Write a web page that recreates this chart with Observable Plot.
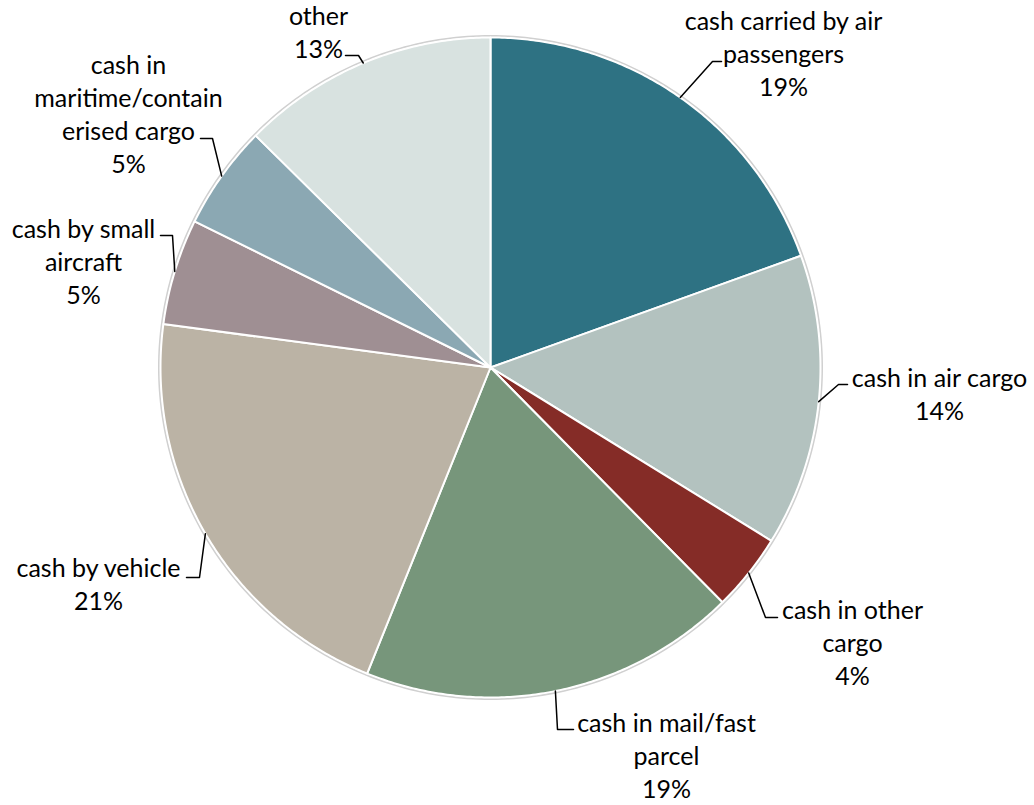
<!DOCTYPE html>
<html>
<head>
<meta charset="utf-8">
<script src="https://cdn.jsdelivr.net/npm/d3@7"></script>
<script src="https://cdn.jsdelivr.net/npm/@observablehq/plot@0.6"></script>
<style>
  html, body { margin: 0; padding: 0; background: #fff; }
  #chart { width: 1034px; height: 805px; }
</style>
</head>
<body>
<div id="chart"></div>
<script>
// ---- data ----
const categories = [
  "cash carried by air passengers",
  "cash in air cargo",
  "cash in other cargo",
  "cash in mail/fast parcel",
  "cash by vehicle",
  "cash by small aircraft",
  "cash in maritime/containerised cargo",
  "other"
];
const values = [19.5, 14.3, 3.8, 18.5, 21.0, 5.2, 5.1, 12.6];
const percentLabels = ["19%", "14%", "4%", "19%", "21%", "5%", "5%", "13%"];
const labelLines = [
  "cash carried by air\npassengers",
  "cash in air cargo",
  "cash in other\ncargo",
  "cash in mail/fast\nparcel",
  "cash by vehicle",
  "cash by small\naircraft",
  "cash in\nmaritime/contain\nerised cargo",
  "other"
];
const colors = ["#2e7283", "#b3c2bf", "#852c27", "#77967b", "#bbb3a5", "#9f8f93", "#8ba8b3", "#d8e2e0"];

// ---- layout ----
const W = 1034, H = 805;
const cx = 490, cy = 367, R = 330;
const labelCenters = [[783, 52], [939, 392], [852, 641], [666, 754], [98, 582], [83, 260], [128, 112], [318, 30]];
const leaderElbows = [[712, 61], [838, 384], [765, 617], [557, 729], [199, 577], [172, 235], [212, 138], [358, 55]];
const leaderEnds = [[721, 61], [847, 384], [777, 617], [573, 729], [186, 577], [160, 235], [200, 138], [345, 55]];

// ---- derived ----
const total = d3.sum(values);
let acc = 0;
const slices = categories.map((c, i) => {
  const a0 = acc / total * 2 * Math.PI;
  acc += values[i];
  const a1 = acc / total * 2 * Math.PI;
  return {cat: c, a0, a1, mid: (a0 + a1) / 2, i};
});
const px = (a, r) => cx + r * Math.sin(a);
const py = (a, r) => cy - r * Math.cos(a);

const polyPts = [];
for (const s of slices) {
  polyPts.push({cat: s.cat, x: cx, y: cy});
  const n = Math.max(2, Math.ceil((s.a1 - s.a0) / (Math.PI / 360)));
  for (let k = 0; k <= n; k++) {
    const a = s.a0 + (s.a1 - s.a0) * k / n;
    polyPts.push({cat: s.cat, x: px(a, R), y: py(a, R)});
  }
  polyPts.push({cat: s.cat, x: cx, y: cy});
}

const leaderPts = [];
slices.forEach((s, i) => {
  leaderPts.push({cat: s.cat, x: px(s.mid, R), y: py(s.mid, R)});
  leaderPts.push({cat: s.cat, x: leaderElbows[i][0], y: leaderElbows[i][1]});
  leaderPts.push({cat: s.cat, x: leaderEnds[i][0], y: leaderEnds[i][1]});
});

const labels = slices.map((s, i) => ({
  text: labelLines[i] + "\n" + percentLabels[i],
  x: labelCenters[i][0],
  y: labelCenters[i][1]
}));

const outline = d3.range(0, 361, 1).map(d => ({x: px(d * Math.PI / 180, R + 1.5), y: py(d * Math.PI / 180, R + 1.5)}));

const chart = Plot.plot({
  width: W,
  height: H,
  margin: 0,
  x: {domain: [0, W], range: [0, W], axis: null},
  y: {domain: [0, H], range: [0, H], axis: null},
  color: {domain: categories, range: colors},
  style: {fontFamily: "Lato, 'Open Sans', sans-serif", background: "#fff"},
  marks: [
    Plot.line(outline, {x: "x", y: "y", stroke: "#d0d0d0", strokeWidth: 2}),
    Plot.line(polyPts, {x: "x", y: "y", z: "cat", fill: "cat", stroke: "#fff", strokeWidth: 2, strokeLinejoin: "round"}),
    Plot.line(leaderPts, {x: "x", y: "y", z: "cat", stroke: "#000", strokeWidth: 1.5}),
    Plot.text(labels, {x: "x", y: "y", text: "text", textAnchor: "middle", lineAnchor: "middle", lineHeight: 1.32, fontSize: 25, fill: "#000"})
  ]
});
document.getElementById("chart").append(chart);
</script>
</body>
</html>
